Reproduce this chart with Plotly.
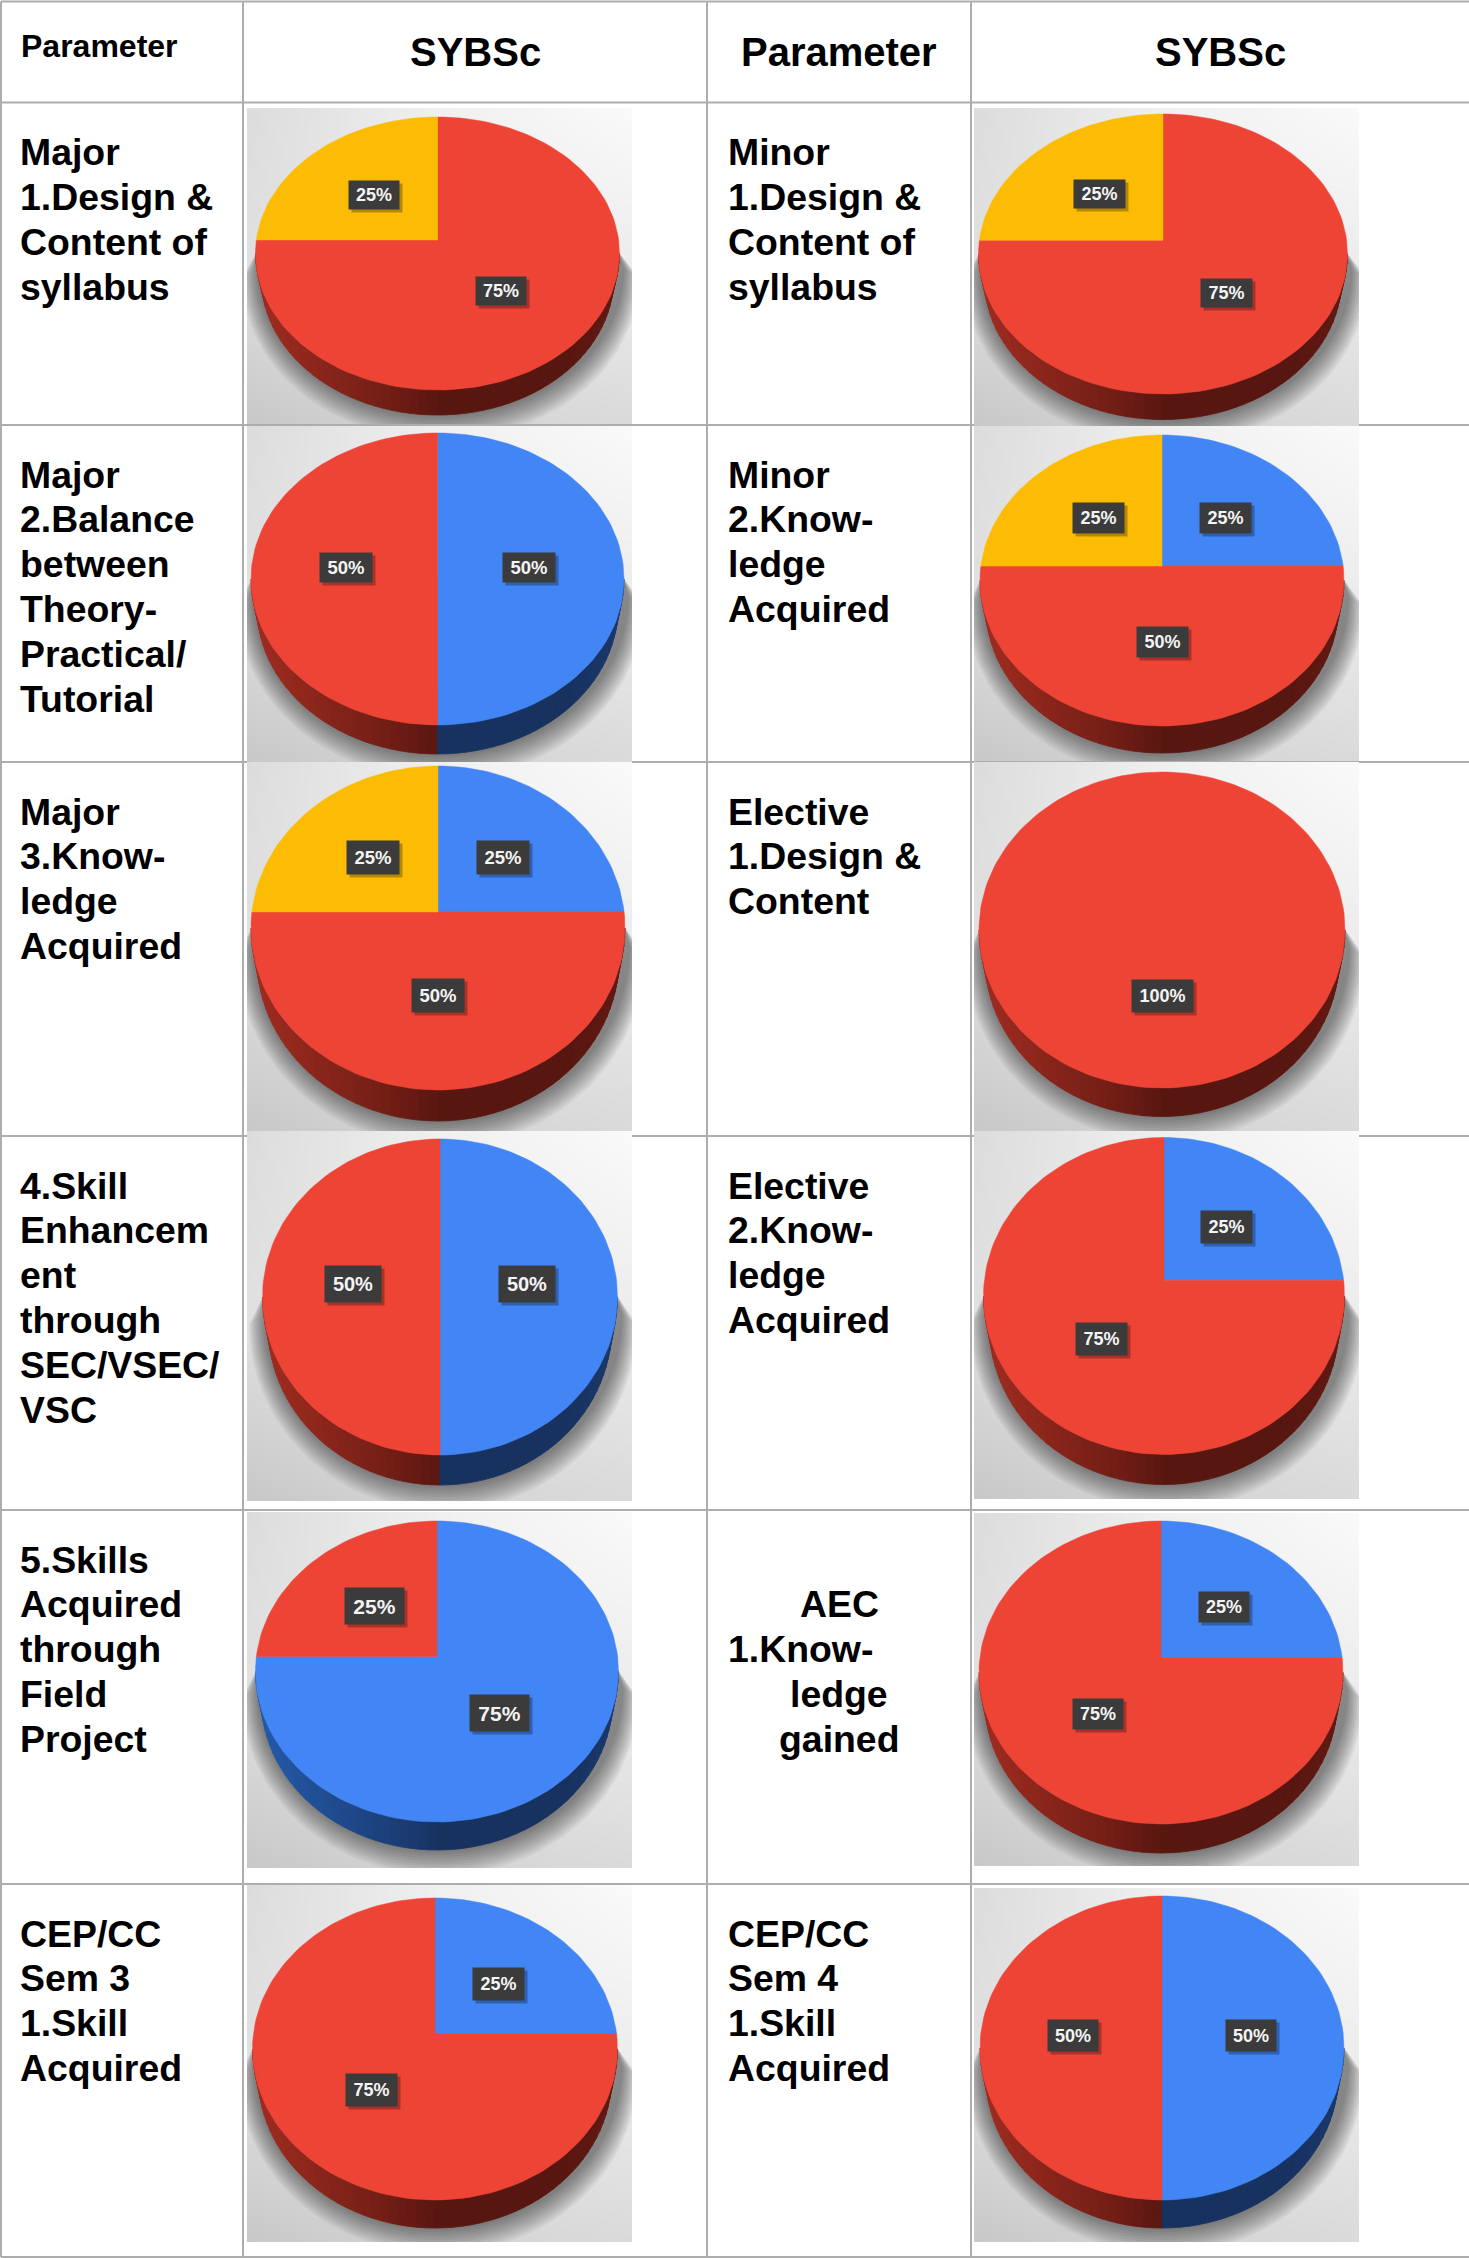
import math
import plotly.graph_objects as go

# ---------- data ----------
PIE_NAMES = ["Major 1", "Major 2", "Major 3", "Skill Enh", "Skills Field", "CEP Sem 3",
             "Minor 1", "Minor 2", "Elective 1", "Elective 2", "AEC 1", "CEP Sem 4"]
BLUE_SHARE  = [0, 50, 25, 50, 75, 25, 0, 25, 0, 25, 25, 50]
RED_SHARE   = [75, 50, 50, 50, 25, 75, 75, 50, 100, 75, 75, 50]
AMBER_SHARE = [25, 0, 25, 0, 0, 0, 25, 25, 0, 0, 0, 0]

HEADER_LEFT = "Parameter"
HEADER_MID = "SYBSc"
LEFT_TEXT = [
    ["Major", "1.Design &", "Content of", "syllabus"],
    ["Major", "2.Balance", "between", "Theory-", "Practical/", "Tutorial"],
    ["Major", "3.Know-", "ledge", "Acquired"],
    ["4.Skill", "Enhancem", "ent", "through", "SEC/VSEC/", "VSC"],
    ["5.Skills", "Acquired", "through", "Field", "Project"],
    ["CEP/CC", "Sem 3", "1.Skill", "Acquired"],
]
RIGHT_TEXT = [
    ["Minor", "1.Design &", "Content of", "syllabus"],
    ["Minor", "2.Know-", "ledge", "Acquired"],
    ["Elective", "1.Design &", "Content"],
    ["Elective", "2.Know-", "ledge", "Acquired"],
    ["AEC", "1.Know-", "ledge", "gained"],
    ["CEP/CC", "Sem 4", "1.Skill", "Acquired"],
]
CENTERED_LINES = {(4, 0), (4, 2), (4, 3)}
RIGHT_ROW_LINE_SKIP = [0, 0, 0, 0, 1, 0]

# ---------- layout geometry (pixels) ----------
W, H = 1469, 2258
GRID_X = [1, 243, 707, 971]
GRID_Y = [1.5, 102.5, 425, 762, 1136, 1510, 1884, 2257]
PANEL_X = [(247, 632)] * 6 + [(974, 1359)] * 6
PANEL_Y = [(108, 424), (426, 762), (762, 1131), (1131, 1501), (1512, 1868), (1885, 2242),
           (108, 426), (426, 761), (762, 1131), (1131, 1499), (1513, 1866), (1888, 2242)]
CX = [437.5, 437.5, 438, 440, 437, 435, 1163, 1162, 1162, 1164, 1161, 1162]
CY = [253.5, 579, 928, 1297, 1671.5, 2049, 254, 580.5, 930, 1296, 1672.5, 2048]
RX = [182, 186.5, 187, 177.5, 181.5, 182.5, 184.5, 182, 183, 180.5, 182, 182]
RY = [136.5, 146, 162, 158, 150.5, 151, 140, 145.5, 158, 158.5, 151.5, 152]
DEPTH = [25, 29, 31, 30, 28, 28, 25.5, 27, 28.5, 30, 29, 28]
LABEL_W = [50, 52, 52, 56, 59, 51, 51, 51, 61, 51, 50, 50]
LABEL_H = [28, 29, 33, 36, 36, 32, 28, 30, 32, 32, 30, 31]
LABEL_FS = [18, 18.5, 18.5, 20, 21, 18, 18, 18, 18, 18, 18, 18]
APEX = 0.099
LABEL_RX = 0.49
LABEL_RY = 0.50
LABEL_DROP = 3
WALL_TAPER = 0.967
LH = 44.9
BASE0 = 62.5
FS = 37.4

SLICE_TOP = {"blue": "#4285F4", "red": "#EE4436", "amber": "#FDBC04"}
WALL_LIGHT = {"blue": (36, 90, 170), "red": (160, 44, 32), "amber": (160, 110, 0)}
WALL_DARK = {"blue": (24, 50, 96), "red": (88, 22, 16), "amber": (110, 80, 0)}
GRID_COLOR = "#ADADAD"
BOX = "#3B3B3B"
PANEL_SHADE = [[200, 212, 218], [224, 236, 236], [220, 240, 250]]   # bottom, middle, top


def ray(theta, a=APEX):
    s, c = math.sin(theta), math.cos(theta)
    t = -a * c + math.sqrt(a * a * c * c - a * a + 1)
    return t * s, a + t * c


def clock_of(x, y, a=APEX):
    return math.atan2(x, y - a) % (2 * math.pi)


fig = go.Figure()

# base grid in page pixels
gx, gy = [], []
for x in GRID_X:
    gx += [x, x, None]
    gy += [GRID_Y[0], GRID_Y[-1], None]
for y in GRID_Y:
    gx += [GRID_X[0], W, None]
    gy += [y, y, None]
fig.add_trace(go.Scatter(x=gx, y=gy, mode="lines", line=dict(color=GRID_COLOR, width=2),
                         hoverinfo="skip", showlegend=False, xaxis="x", yaxis="y"))

annotations = []


def text_line(txt, x, baseline, size, anchor="left"):
    annotations.append(dict(
        text=txt, xref="x", yref="y", x=x, y=baseline - 0.3465 * size,
        xanchor=anchor, yanchor="middle", showarrow=False, borderpad=0,
        font=dict(family="Liberation Sans", size=size, color="#000000", weight="bold")))


text_line(HEADER_LEFT, 19.5, 57, 32)
text_line(HEADER_MID, 475, 66, 40, "center")
text_line(HEADER_LEFT, 839, 66, 40, "center")
text_line(HEADER_MID, 1220, 66, 40, "center")
for r, (lt, rt) in enumerate(zip(LEFT_TEXT, RIGHT_TEXT)):
    base = GRID_Y[r + 1] + BASE0
    for i, s in enumerate(lt):
        text_line(s, 19, base + i * LH, FS)
    for i, s in enumerate(rt):
        b = base + (i + RIGHT_ROW_LINE_SKIP[r]) * LH
        if (r, i) in CENTERED_LINES:
            text_line(s, 839, b, FS, "center")
        else:
            text_line(s, 727, b, FS)

layout_axes = {
    "xaxis": dict(domain=[0, 1], range=[0, W], visible=False, fixedrange=True, anchor="y"),
    "yaxis": dict(domain=[0, 1], range=[H, 0], visible=False, fixedrange=True, anchor="x"),
}

for p in range(12):
    k = p + 2
    xa, ya = f"x{k}", f"y{k}"
    cx, cy, rx, ry, d = CX[p], CY[p], RX[p], RY[p], DEPTH[p]
    (px0, px1), (py0, py1) = PANEL_X[p], PANEL_Y[p]
    xr = [(px0 - cx) / rx, (px1 - cx) / rx]
    yr = [(cy - py1) / ry, (cy - py0) / ry]
    layout_axes[f"xaxis{k}"] = dict(domain=[px0 / W, px1 / W], range=xr, visible=False,
                                    fixedrange=True, anchor=ya)
    layout_axes[f"yaxis{k}"] = dict(domain=[1 - py1 / H, 1 - py0 / H], range=yr, visible=False,
                                    fixedrange=True, anchor=xa)

    # panel background
    fig.add_trace(go.Heatmap(
        x=[xr[0], (xr[0] + xr[1]) / 2, xr[1]], y=[yr[0], (yr[0] + yr[1]) / 2, yr[1]],
        z=PANEL_SHADE, zmin=0, zmax=255, zsmooth="best",
        colorscale=[[0, "#000000"], [1, "#ffffff"]], showscale=False,
        hoverinfo="skip", xaxis=xa, yaxis=ya))

    # soft shadow: only below the disc, tapering into its left and right edges
    dn = d / ry
    for j in range(10):
        grow = j * 1.6
        sx = (rx + 2 + grow) / rx
        sy = (ry + d * 0.45 + grow) / ry
        sc = -(d * 0.62 + grow * 0.6) / ry
        xs = [-0.99] + [3 / rx + sx * math.cos(math.pi + i * math.pi / 60) for i in range(61)] + [0.99]
        ys = [0.02] + [sc + sy * math.sin(math.pi + i * math.pi / 60) for i in range(61)] + [0.02]
        fig.add_trace(go.Scatter(x=xs + xs[:1], y=ys + ys[:1], mode="lines", fill="toself",
                                 fillcolor="rgba(0,0,0,0.05)", line=dict(width=0),
                                 hoverinfo="skip", showlegend=False, xaxis=xa, yaxis=ya))

    # slices in clockwise order
    slices = [("blue", BLUE_SHARE[p]), ("red", RED_SHARE[p]), ("amber", AMBER_SHARE[p])]
    total = sum(v for _, v in slices)
    spans = []
    cum = 0.0
    for nm, v in slices:
        if v > 0:
            spans.append((nm, v, cum, cum + v))
        cum += v

    # side wall: the lower rim is slightly narrower than the top surface
    n = 60
    for i in range(n):
        ph0 = math.pi + math.pi * i / n
        ph1 = math.pi + math.pi * (i + 1) / n
        mx, my = math.cos((ph0 + ph1) / 2), math.sin((ph0 + ph1) / 2)
        frac = clock_of(mx, my) / (2 * math.pi) * total
        name = next((nm for nm, v, a, b in spans if a <= frac < b), spans[-1][0])
        s = (mx + 1) / 2
        f = max(0.0, 1 - s / 0.5) ** 0.8 if s < 0.5 else max(0.0, (s - 0.85) / 0.15) * 0.15
        col = tuple(int(WALL_DARK[name][c] + f * (WALL_LIGHT[name][c] - WALL_DARK[name][c])) for c in range(3))
        cs = f"rgb{col}"
        arc = [ph0 + (ph1 - ph0) * q / 3 for q in range(4)]
        xs = [math.cos(t) for t in arc] + [WALL_TAPER * math.cos(t) for t in reversed(arc)] + [math.cos(arc[0])]
        ys = [math.sin(t) for t in arc] + [math.sin(t) - dn for t in reversed(arc)] + [math.sin(arc[0])]
        fig.add_trace(go.Scatter(x=xs, y=ys, mode="lines", fill="toself", fillcolor=cs,
                                 line=dict(width=0.8, color=cs),
                                 hoverinfo="skip", showlegend=False, xaxis=xa, yaxis=ya))

    # top surface sectors
    for nm, v, a, b in spans:
        t0, t1 = a / total * 2 * math.pi, b / total * 2 * math.pi
        m = max(2, int((t1 - t0) / math.radians(2)))
        pts = [ray(t0 + (t1 - t0) * q / m) for q in range(m + 1)]
        xs = [0.0] + [q[0] for q in pts] + [0.0]
        ys = [APEX] + [q[1] for q in pts] + [APEX]
        fig.add_trace(go.Scatter(x=xs, y=ys, mode="lines", fill="toself",
                                 fillcolor=SLICE_TOP[nm], line=dict(width=0.5, color=SLICE_TOP[nm]),
                                 name=f"{PIE_NAMES[p]} {nm}", hoverinfo="name",
                                 showlegend=False, xaxis=xa, yaxis=ya))
        mid = (t0 + t1) / 2
        lx, ly = LABEL_RX * math.sin(mid), APEX + LABEL_RY * math.cos(mid)
        common = dict(xref=xa, yref=ya, x=lx, y=ly, xanchor="center", yanchor="middle",
                      showarrow=False, borderpad=0, width=LABEL_W[p], height=LABEL_H[p],
                      align="center", valign="middle")
        txt = f"{v / total * 100:.0f}%"
        annotations.append(dict(common, text=txt, xshift=3, yshift=-LABEL_DROP - 3,
                                bgcolor="rgba(0,0,0,0.28)",
                                font=dict(family="Liberation Sans", size=LABEL_FS[p],
                                          color="rgba(0,0,0,0)", weight="bold")))
        annotations.append(dict(common, text=txt, yshift=-LABEL_DROP, bgcolor=BOX,
                                font=dict(family="Liberation Sans", size=LABEL_FS[p],
                                          color="#F4F4F4", weight="bold")))

fig.update_layout(
    width=W, height=H, autosize=False, margin=dict(l=0, r=0, t=0, b=0, pad=0),
    paper_bgcolor="#ffffff", plot_bgcolor="rgba(0,0,0,0)", showlegend=False,
    annotations=annotations, **layout_axes)

fig.write_html("out.html", config=dict(displayModeBar=False),
               post_script="document.body.style.margin='0';document.documentElement.style.overflow='hidden';")
